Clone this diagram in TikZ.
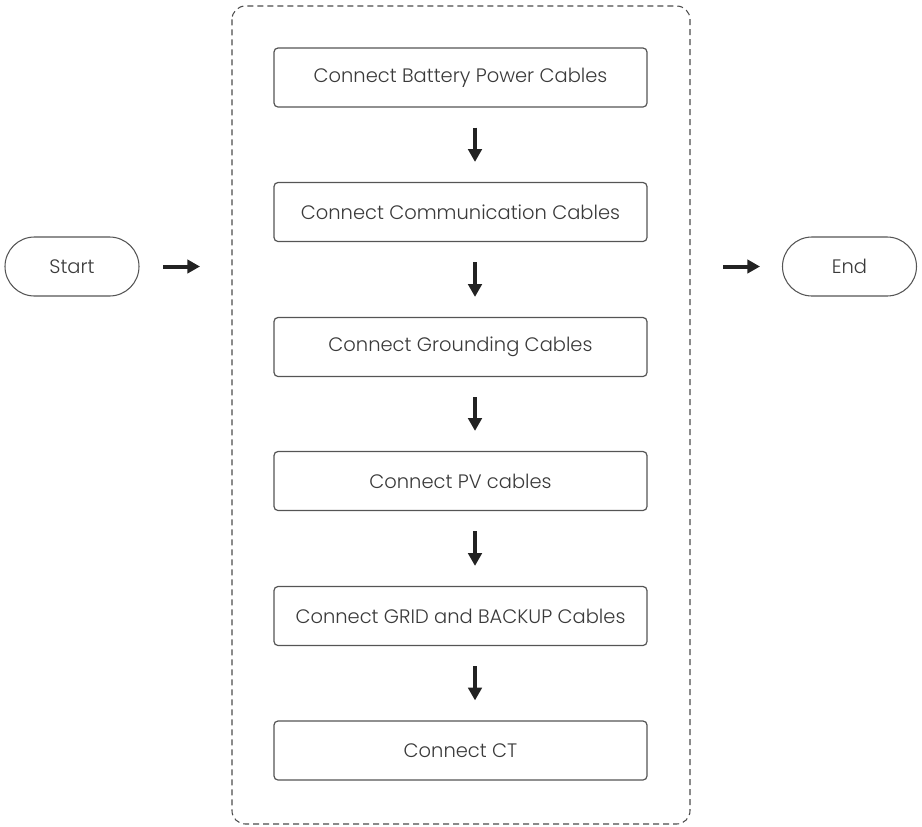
\documentclass[tikz,border=0pt]{standalone}
\usepackage{fontspec}
\setmainfont{Poppins}[UprightFont=* Light]
\usetikzlibrary{arrows.meta}
\definecolor{txt}{HTML}{3A3A3A}
\definecolor{edge}{HTML}{555555}
\definecolor{arr}{HTML}{222222}
\tikzset{
  stepbox/.style={draw=edge, line width=0.9pt, rounded corners=3pt, minimum width=373*0.75pt, minimum height=59*0.75pt, text=txt, font=\fontsize{14.6}{16}\selectfont, inner sep=0pt},
  pill/.style={draw=edge, line width=0.8pt, rounded corners=29.5*0.75pt, minimum width=134*0.75pt, minimum height=59*0.75pt, text=txt, font=\fontsize{14.6}{16}\selectfont, inner sep=0pt},
  flow/.style={line width=3pt, arr, -{Triangle[length=9.5pt,width=10pt]}},
  frame/.style={draw=edge!90!black, dashed, dash pattern=on 4.5pt off 3pt, line width=0.8pt, rounded corners=10pt}
}
\begin{document}
\begin{tikzpicture}[x=0.75pt,y=-0.75pt]
\useasboundingbox (0,0) rectangle (922,826);
\draw[frame] (232,6) rectangle (690,824);
\node[pill] (start) at (72,266.5) {Start};
\node[pill] (end) at (849.5,266.5) {End};
\node[stepbox] (b1) at (460.5,77.5) {Connect Battery Power Cables};
\node[stepbox] (b2) at (460.5,212) {Connect Communication Cables};
\node[stepbox] (b3) at (460.5,347) {Connect Grounding Cables};
\node[stepbox] (b4) at (460.5,481) {Connect PV cables};
\node[stepbox] (b5) at (460.5,616) {Connect GRID and BACKUP Cables};
\node[stepbox] (b6) at (460.5,750.5) {Connect CT};
\coordinate (sa) at (163,266.5);
\coordinate (sb) at (200,266.5);
\coordinate (ea) at (723,266.5);
\coordinate (eb) at (760,266.5);
\draw[flow] (sa) -- (sb);
\draw[flow] (ea) -- (eb);
\foreach \a/\b in {b1/b2,b2/b3,b3/b4,b4/b5,b5/b6}{
  \draw[flow] ([xshift=14.5*0.75pt,yshift=-20*0.75pt]\a.south) -- ([xshift=14.5*0.75pt,yshift=20*0.75pt]\b.north);
}
\end{tikzpicture}
\end{document}
